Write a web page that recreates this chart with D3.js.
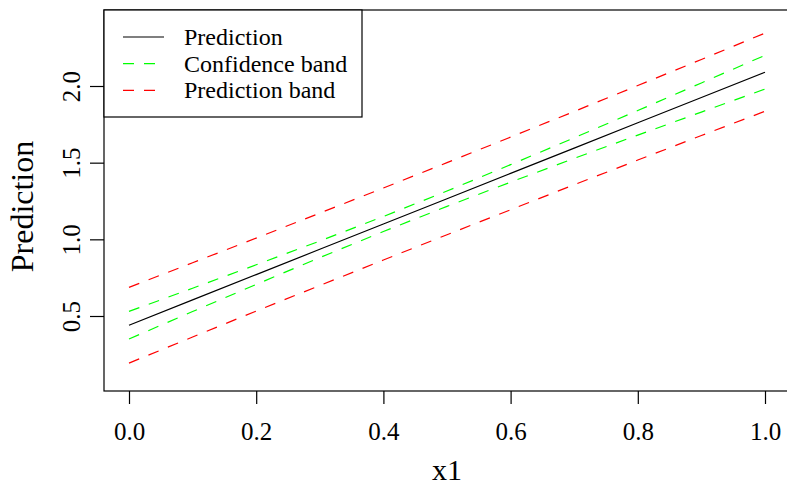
<!DOCTYPE html>
<html>
<head>
<meta charset="utf-8">
<script src="https://cdn.jsdelivr.net/npm/d3@7/dist/d3.min.js"></script>
<style>
  html, body { margin: 0; padding: 0; background: #fff; }
  svg { display: block; }
  text { font-family: "Liberation Serif", "Times New Roman", serif; fill: #000; }
</style>
</head>
<body>
<svg id="chart" width="787" height="488"></svg>
<script>
// ---- data ----
const x1 = [0.0, 0.1, 0.2, 0.3, 0.4, 0.5, 0.6, 0.7, 0.8, 0.9, 1.0];
const prediction = [0.440, 0.605, 0.770, 0.935, 1.100, 1.265, 1.430, 1.595, 1.760, 1.925, 2.090];
const confUpper  = [0.530, 0.681, 0.834, 0.989, 1.149, 1.315, 1.487, 1.662, 1.840, 2.020, 2.200];
const confLower  = [0.350, 0.529, 0.706, 0.881, 1.051, 1.215, 1.373, 1.528, 1.680, 1.830, 1.980];
const predUpper  = [0.687, 0.847, 1.008, 1.171, 1.335, 1.500, 1.667, 1.834, 2.003, 2.173, 2.345];
const predLower  = [0.193, 0.363, 0.532, 0.699, 0.865, 1.030, 1.193, 1.356, 1.517, 1.677, 1.835];
const xTicks = [0.0, 0.2, 0.4, 0.6, 0.8, 1.0];
const yTicks = [0.5, 1.0, 1.5, 2.0];
const legendLabels = ["Prediction", "Confidence band", "Prediction band"];
const xTitle = "x1";
const yTitle = "Prediction";

// ---- layout ----
const svg = d3.select("#chart");
const box = { left: 104, top: 10, right: 790, bottom: 391 };
const x = d3.scaleLinear().domain([0, 1]).range([129, 765]);
const y = d3.scaleLinear().domain([0.5, 2.0]).range([316, 86]);
const fmt = d3.format(".1f");

// plot box
svg.append("rect")
  .attr("x", box.left).attr("y", box.top)
  .attr("width", box.right - box.left).attr("height", box.bottom - box.top)
  .attr("fill", "none").attr("stroke", "#000").attr("stroke-width", 1.2);

// x axis
const gx = svg.append("g").attr("transform", `translate(0,${box.bottom})`)
  .call(d3.axisBottom(x).tickValues(xTicks).tickFormat(fmt).tickSize(13).tickPadding(0));
gx.select(".domain").remove();
gx.selectAll("line").attr("stroke", "#000").attr("stroke-width", 1.2);
gx.selectAll("text").attr("font-size", 25).attr("dy", null).attr("y", 49)
  .attr("font-family", "Liberation Serif");

// y axis
const gy = svg.append("g").attr("transform", `translate(${box.left},0)`)
  .call(d3.axisLeft(y).tickValues(yTicks).tickFormat(fmt).tickSize(14).tickPadding(0));
gy.select(".domain").remove();
gy.selectAll("line").attr("stroke", "#000").attr("stroke-width", 1.2);
gy.selectAll(".tick text")
  .attr("font-size", 25).attr("font-family", "Liberation Serif")
  .attr("x", null).attr("dy", null)
  .attr("text-anchor", "middle")
  .attr("transform", "translate(-24,0) rotate(-90)");

// axis titles
svg.append("text").attr("x", 447).attr("y", 480)
  .attr("text-anchor", "middle").attr("font-size", 30).text(xTitle);
svg.append("text")
  .attr("transform", `translate(33,${(box.top + box.bottom) / 2 + 6}) rotate(-90)`)
  .attr("text-anchor", "middle").attr("font-size", 32).text(yTitle);

// lines
const line = d3.line().x((d, i) => x(x1[i])).y(d => y(d));
const series = [
  { v: predUpper, c: "#FF0000", dash: "11,10" },
  { v: predLower, c: "#FF0000", dash: "11,10" },
  { v: confUpper, c: "#00FF00", dash: "11,10" },
  { v: confLower, c: "#00FF00", dash: "11,10" },
  { v: prediction, c: "#000000", dash: null }
];
svg.append("g").selectAll("path").data(series).join("path")
  .attr("d", d => line(d.v))
  .attr("fill", "none")
  .attr("stroke", d => d.c)
  .attr("stroke-width", 1.2)
  .attr("stroke-dasharray", d => d.dash);

// legend
const leg = svg.append("g");
leg.append("rect").attr("x", 104).attr("y", 10).attr("width", 258).attr("height", 107)
  .attr("fill", "#fff").attr("stroke", "#000").attr("stroke-width", 1.2);
const legColors = ["#000000", "#00FF00", "#FF0000"];
const legDash = [null, "11,10", "11,10"];
const legY = d3.scaleLinear().domain([0, 2]).range([37, 90.3]);
legendLabels.forEach((lab, i) => {
  leg.append("line").attr("x1", 123).attr("x2", 164)
    .attr("y1", legY(i)).attr("y2", legY(i))
    .attr("stroke", legColors[i]).attr("stroke-width", 1.2)
    .attr("stroke-dasharray", legDash[i]);
  leg.append("text").attr("x", 184).attr("y", legY(i) + 8)
    .attr("font-size", 24).text(lab);
});
</script>
</body>
</html>
